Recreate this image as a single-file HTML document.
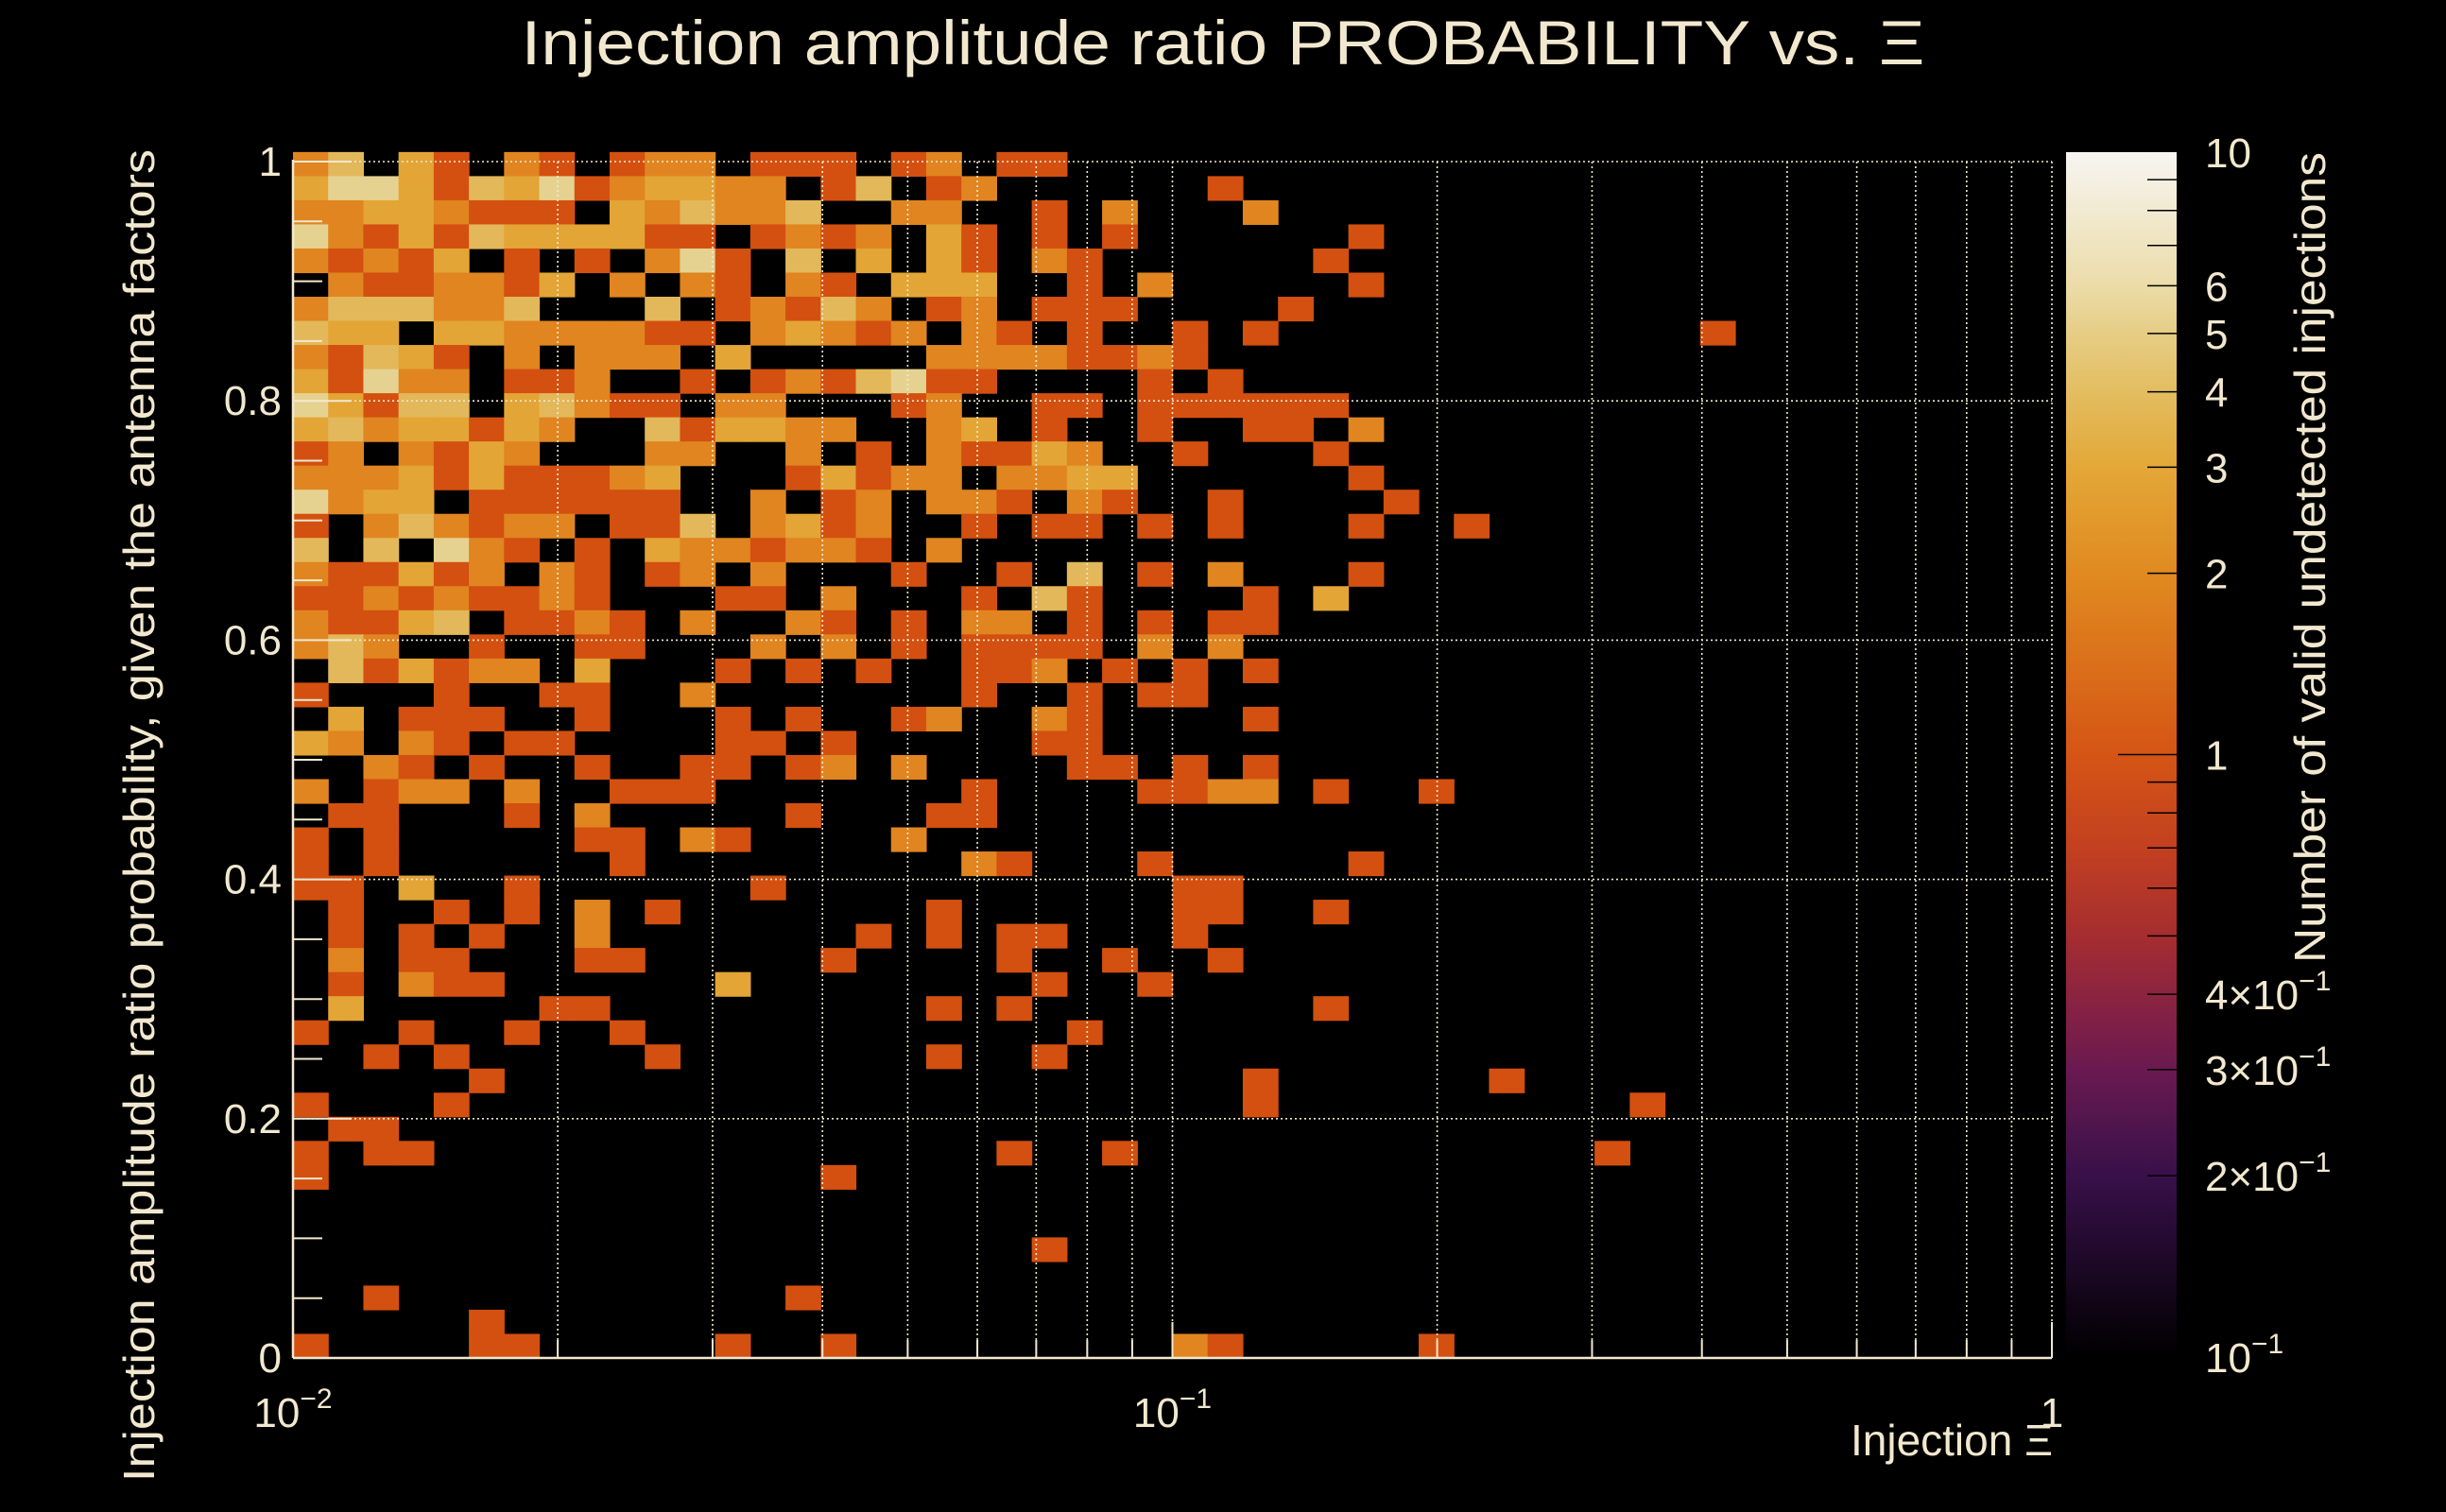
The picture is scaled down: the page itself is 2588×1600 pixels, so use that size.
<!DOCTYPE html>
<html><head><meta charset="utf-8">
<style>
html,body{margin:0;padding:0;background:#000;}
svg{display:block;font-family:"Liberation Sans",sans-serif;}
</style></head>
<body>
<svg id="chart" width="2588" height="1600" viewBox="0 0 2588 1600" xmlns="http://www.w3.org/2000/svg">
<defs>
<linearGradient id="cbgrad" x1="0" y1="1" x2="0" y2="0">
<stop offset="0" stop-color="#000000"/>
<stop offset="0.15" stop-color="#38104a"/>
<stop offset="0.239" stop-color="#6a1a50"/>
<stop offset="0.301" stop-color="#8c2440"/>
<stop offset="0.349" stop-color="#a52d30"/>
<stop offset="0.423" stop-color="#c34020"/>
<stop offset="0.5" stop-color="#d55515"/>
<stop offset="0.65" stop-color="#e08a20"/>
<stop offset="0.739" stop-color="#e3a838"/>
<stop offset="0.801" stop-color="#e3bd60"/>
<stop offset="0.849" stop-color="#e6cd85"/>
<stop offset="0.889" stop-color="#ebdca8"/>
<stop offset="1" stop-color="#f7f5f2"/>
</linearGradient>
</defs>
<rect x="0" y="0" width="2588" height="1600" fill="#000"/>
<g id="cells"></g>
<g id="grid"></g>
<g id="axes"></g>
<g id="colorbar"></g>
<text x="1294" y="68" text-anchor="middle" font-size="66" fill="#f2e8cf" textLength="1485" lengthAdjust="spacingAndGlyphs">Injection amplitude ratio PROBABILITY vs.  Ξ</text>
<text transform="translate(163,1568) rotate(-90)" x="0" y="0" font-size="46" fill="#f2e8cf" textLength="1410" lengthAdjust="spacingAndGlyphs">Injection amplitude ratio probability, given the antenna factors</text>
<text x="2172" y="1540" text-anchor="end" font-size="46" fill="#f2e8cf">Injection Ξ</text>
<text transform="translate(2460,161) rotate(-90)" x="0" y="0" text-anchor="end" font-size="46" fill="#f2e8cf" textLength="858" lengthAdjust="spacingAndGlyphs">Number of valid undetected injections</text>
</svg>
<script>
// ---- data ----
// counts per bin; row 0 = top (y ≈ 1), column 0 = x = 0.01; '.' = empty
const countRows = [
"24.31.21.122.111" + ".12.11..........",
"35531435123322.1" + "4.12......1.....",
"22332111.324224." + ".22..1.2...2....",
"521314333311.121" + "2.31.1.1......1.",
"21213.1.1.251.4." + "3.31.21......1..",
".2112213.2.21.21" + ".333..1.2.....1.",
"2444224...4.1214" + "2.12.111....1...",
"433.33222211.232" + "12.21.1..1.1...." + "........1.........",
"21431.2.222.3..." + "..22221121......",
"31522.112..1.121" + "4511....1.1.....",
"53144.34211.22.." + ".12..11.111111..",
"34233132..413322" + "..23.1..1..11.2.",
"12.2132...22..2." + "1.21132..1...1..",
"22231311123...13" + "122.2233......1.",
"5233.111111..2.1" + "2.221.21..1....1",
"1.242122.114.231" + "2..1.11.1.1...1." + ".1................",
"4.4.521.1.322122" + "1.2.............",
"211312.21.12.2.." + ".1..1.4.1.2...1.",
"112121121...11.2" + "...1.41....1.3..",
"21134.1121.2..21" + ".1.22.1.1.11....",
"242..1..11...2.2" + ".1.1111.2.2.....",
".413122.3...1.1." + "1..112.1.1.1....",
"1...1..11..2...." + "...1..1.11......",
".3.111..1...1.1." + ".12..21....1....",
"32.21.11....11.1" + ".....11.........",
"..21.1..1..11.12" + ".2....11.1.1....",
"2.122.2..111...." + "...1....1122.1.." + "1.................",
".11...1.2.....1." + "..11............",
"1.1.....11.21..." + ".2..............",
"1.1......1......" + "...21...1.....1.",
"11.3..1......1.." + ".........11.....",
".1..1.1.2.1....." + "..1......11..1..",
".1.1.1..2......." + "1.1.11...1......",
".2.11...11.....1" + "....1..1..1.....",
".1.211......3..." + ".....1..1.......",
".3.....11......." + "..1.1........1..",
"1..1..1..1......" + "......1.........",
"..1.1.....1....." + "..1..1..........",
".....1.........." + "...........1...." + "..1...............",
"1...1..........." + "...........1...." + "......1...........",
".11.............",
"1.11............" + "....1..1........" + ".....1............",
"1..............1",
"",
"",
"................" + ".....1..........",
"",
"..1...........1.",
".....1..........",
"1....11.....1..1" + ".........21....." + "1................."
];
const xTickValues = [0.01, 0.1, 1];
const xTickLabels = ["10", "10", "1"];
const xTickExps = ["−2", "−1", ""];
const yTickValues = [0, 0.2, 0.4, 0.6, 0.8, 1];
const yTickLabels = ["0", "0.2", "0.4", "0.6", "0.8", "1"];
const cbTickValues = [10, 6, 5, 4, 3, 2, 1, 0.4, 0.3, 0.2, 0.1];
const cbTickLabels = ["10", "6", "5", "4", "3", "2", "1", "4×10", "3×10", "2×10", "10"];
const cbTickExps = ["", "", "", "", "", "", "", "−1", "−1", "−1", "−1"];

// ---- geometry ----
const NS = "http://www.w3.org/2000/svg";
const X0 = 310, X1 = 2171, Y0 = 1437, Y1 = 171;
const NX = 50, NY = 50, YTOPVAL = 1.008;
const xScale = v => X0 + (Math.log10(v) + 2) / 2 * (X1 - X0);
const yScale = v => Y0 - v * (Y0 - Y1);
const CB_X = 2186, CB_W = 117, CB_TOP = 161, CB_BOT = 1436;
const cbScale = v => CB_BOT - (Math.log10(v) + 1) / 2 * (CB_BOT - CB_TOP);
const stops = [[0,[0,0,0]],[0.15,[56,16,74]],[0.239,[106,26,80]],[0.301,[140,36,64]],[0.349,[165,45,48]],[0.423,[195,64,32]],[0.5,[211,80,16]],[0.65,[224,133,32]],[0.739,[227,165,53]],[0.801,[227,184,90]],[0.849,[230,210,144]],[0.889,[235,220,168]],[1,[247,245,242]]];
function colorFor(v){
  let t = (Math.log10(v) + 1) / 2; t = Math.max(0, Math.min(1, t));
  for (let i = 1; i < stops.length; i++) {
    if (t <= stops[i][0]) {
      const a = stops[i-1], b = stops[i], f = (t - a[0]) / (b[0] - a[0]);
      const c = a[1].map((x, k) => Math.round(x + (b[1][k] - x) * f));
      return "rgb(" + c.join(",") + ")";
    }
  }
  return "rgb(247,245,242)";
}
function mk(tag, attrs, parent){
  const e = document.createElementNS(NS, tag);
  for (const k in attrs) e.setAttribute(k, attrs[k]);
  parent.appendChild(e); return e;
}
const cells = document.getElementById("cells");
const grid = document.getElementById("grid");
const axes = document.getElementById("axes");
const cb = document.getElementById("colorbar");
const cream = "#f2e8cf";

// ---- cells ----
countRows.forEach((row, r) => {
  for (let c = 0; c < row.length && c < NX; c++) {
    const ch = row[c];
    if (ch === ".") continue;
    const v = parseInt(ch, 10);
    const lx0 = -2 + c * 2 / NX, lx1 = -2 + (c + 1) * 2 / NX;
    const vTop = YTOPVAL - r * YTOPVAL / NY, vBot = YTOPVAL - (r + 1) * YTOPVAL / NY;
    const xa = xScale(Math.pow(10, lx0)), xb = xScale(Math.pow(10, lx1));
    const ya = yScale(vTop), yb = yScale(vBot);
    const rect = mk("rect", {x: xa.toFixed(2), y: ya.toFixed(2), width: (xb - xa + 0.6).toFixed(2), height: (yb - ya + 0.6).toFixed(2), fill: colorFor(v)}, cells);
    
    
  }
});

// ---- grid ----
const gridX = [];
for (let d = 0.01; d < 1; d *= 10) for (let m = 2; m <= 10; m++) gridX.push(d * m);
gridX.forEach(v => {
  const x = xScale(v);
  const l = mk("line", {x1: x, x2: x, y1: Y1, y2: Y0, stroke: cream, "stroke-width": 1.6, "stroke-dasharray": "2 3"}, grid);
  
  
  const isMajor = Math.abs(Math.log10(v) - Math.round(Math.log10(v))) < 1e-6;
  const t = mk("line", {x1: x, x2: x, y1: Y0, y2: Y0 - (isMajor ? 38 : 19), stroke: cream, "stroke-width": 2}, axes);
  
  
});
yTickValues.forEach(v => {
  if (v === 0) return;
  const y = yScale(v);
  const l = mk("line", {x1: X0, x2: X1, y1: y, y2: y, stroke: cream, "stroke-width": 1.6, "stroke-dasharray": "2 3"}, grid);
  
  
});
for (let i = 0; i <= 20; i++) {
  const v = i * 0.05, y = yScale(v);
  const major = i % 4 === 0;
  const t = mk("line", {x1: X0, x2: X0 + (major ? 62 : 31), y1: y, y2: y, stroke: cream, "stroke-width": 2}, axes);
  
  
}

// ---- axes ----
const ax1 = mk("line", {x1: X0, x2: X0, y1: Y1 - 2, y2: Y0, stroke: cream, "stroke-width": 2.5}, axes);


const ax2 = mk("line", {x1: X0, x2: X1, y1: Y0, y2: Y0, stroke: cream, "stroke-width": 2.5}, axes);



yTickValues.forEach((v, i) => {
  const t = mk("text", {x: 298, y: yScale(v) + 15, "text-anchor": "end", "font-size": 44, fill: cream}, axes);
  t.textContent = yTickLabels[i];
  
  
});
xTickValues.forEach((v, i) => {
  const t = mk("text", {x: xScale(v), y: 1510, "text-anchor": "middle", "font-size": 44, fill: cream}, axes);
  t.textContent = xTickLabels[i];
  if (xTickExps[i]) {
    const s = mk("tspan", {dy: -20, "font-size": 30}, t);
    s.textContent = xTickExps[i];
  }
  
  
});

// ---- colorbar ----
const bar = mk("rect", {x: CB_X, y: CB_TOP, width: CB_W, height: CB_BOT - CB_TOP, fill: "url(#cbgrad)"}, cb);


const minorCb = [0.2,0.3,0.4,0.5,0.6,0.7,0.8,0.9,1,2,3,4,5,6,7,8,9];
minorCb.forEach(v => {
  const y = cbScale(v);
  const t = mk("line", {x1: CB_X + CB_W - (v === 1 ? 62 : 31), x2: CB_X + CB_W, y1: y, y2: y, stroke: "#000", "stroke-width": 1.5}, cb);
  
  
});
cbTickValues.forEach((v, i) => {
  const t = mk("text", {x: 2333, y: cbScale(v) + 16, "font-size": 44, fill: cream}, cb);
  t.textContent = cbTickLabels[i];
  if (cbTickExps[i]) {
    const s = mk("tspan", {dy: -20, "font-size": 30}, t);
    s.textContent = cbTickExps[i];
  }
  
  
});
</script>
</body></html>
